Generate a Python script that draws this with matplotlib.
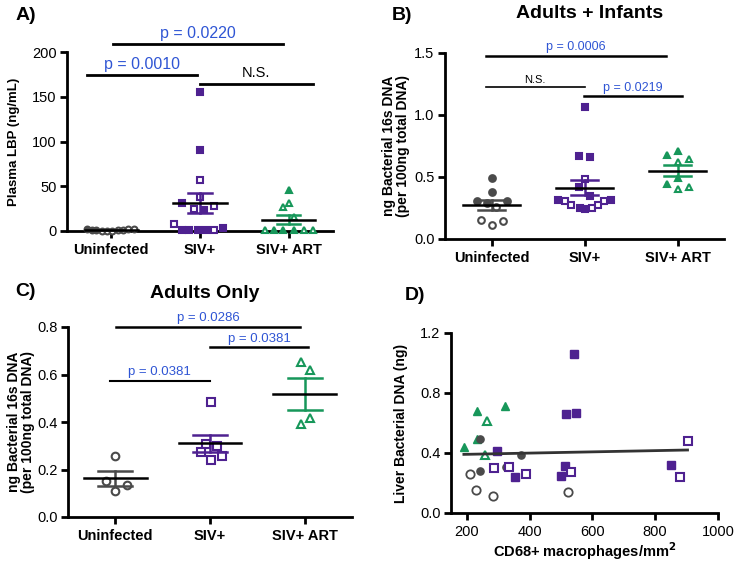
import numpy as np
import matplotlib
matplotlib.use('Agg')
import matplotlib.pyplot as plt

plt.rcParams['font.family'] = ['Liberation Sans', 'DejaVu Sans']

groups = ['Uninfected', 'SIV+', 'SIV+ ART']

# panel A - plasma LBP (ng/mL)
a_uninf_filled = [2.5, 1.5, 1.0]
a_uninf_open = [0.5, 0.3, 0.5, 1.0, 1.5, 2.0, 2.5]
a_siv_filled = [155, 91, 31.6, 23, 1, 1, 1, 1, 3.7]
a_siv_open = [57, 38, 28, 24.5, 7.6, 1]
a_art_filled = [46, 1, 1, 1]
a_art_open = [27, 31, 16, 1, 1, 1]

# panel B - adults + infants
b_uninf_filled = [0.49, 0.38, 0.31, 0.29, 0.31]
b_uninf_open = [0.26, 0.15, 0.115, 0.145]
b_siv_filled = [1.066, 0.67, 0.665, 0.416, 0.35, 0.318, 0.318, 0.25, 0.245]
b_siv_open = [0.48, 0.31, 0.31, 0.277, 0.25, 0.277]
b_art_filled = [0.68, 0.71, 0.49, 0.44]
b_art_open = [0.625, 0.646, 0.40, 0.42]

# panel C - adults only
c_uninf = [0.255, 0.15, 0.11, 0.135]
c_siv = [0.483, 0.309, 0.299, 0.274, 0.257, 0.242]
c_art = [0.653, 0.618, 0.417, 0.39]

# panel D - CD68+ vs liver bacterial DNA
d_green_filled_x = [191, 232, 321, 232]
d_green_filled_y = [0.438, 0.680, 0.713, 0.491]
d_green_open_x = [266, 258]
d_green_open_y = [0.613, 0.387]
d_gray_filled_x = [241, 241, 284, 326, 373]
d_gray_filled_y = [0.491, 0.28, 0.298, 0.304, 0.387]
d_gray_open_x = [211, 231, 284, 523]
d_gray_open_y = [0.258, 0.153, 0.113, 0.138]
d_purp_filled_x = [542, 517, 547, 297, 353, 513, 501, 850]
d_purp_filled_y = [1.06, 0.66, 0.669, 0.411, 0.238, 0.313, 0.247, 0.32]
d_purp_open_x = [286, 334, 389, 531, 903, 880]
d_purp_open_y = [0.298, 0.309, 0.258, 0.271, 0.478, 0.242]
d_fit_slope = 4.1e-5
d_fit_intercept = 0.383

# horizontal jitter of the dot plots (layout only)
a_off_uf = [-0.28, -0.22, -0.17]
a_off_uo = [-0.11, -0.05, 0.01, 0.07, 0.13, 0.19, 0.25]
a_off_sf = [0, 0, -0.2, 0.05, -0.2, -0.12, -0.02, 0.07, 0.26]
a_off_so = [0, 0, 0.16, -0.07, -0.29, 0.16]
a_off_af = [0, -0.17, -0.06, 0.06]
a_off_ao = [-0.06, 0.0, 0.06, -0.27, 0.17, 0.28]
b_off_uf = [0, 0, -0.16, -0.05, 0.17]
b_off_uo = [0.05, -0.11, 0.01, 0.12]
b_off_sf = [0, -0.06, 0.06, -0.06, 0.06, -0.28, 0.28, -0.05, 0.01]
b_off_so = [0, -0.21, 0.21, -0.14, 0.08, 0.15]
b_off_af = [-0.11, 0, 0, -0.11]
b_off_ao = [0, 0.12, 0, 0.12]
c_off_u = [0, -0.1, 0, 0.12]
c_off_s = [0.01, -0.04, 0.07, -0.09, 0.13, 0.01]
c_off_a = [-0.04, 0.06, 0.06, -0.04]

GRAY = '#4a4a4a'
PURPLE = '#4e2190'
GREEN = '#17975a'
BLUE = '#2f55d4'

fig = plt.figure(figsize=(7.36, 5.63), dpi=100)


def px_axes(l, t, r, b):
    W, H = 736.0, 563.0
    return fig.add_axes([l / W, 1 - b / H, (r - l) / W, (b - t) / H])


def style(ax, ylim, yticks, fmt):
    for s in ['top', 'right']:
        ax.spines[s].set_visible(False)
    for s in ['left', 'bottom']:
        ax.spines[s].set_linewidth(2.0)
    ax.tick_params(width=2.0, length=5, labelsize=10.5, color='black')
    ax.tick_params(axis='y', pad=2.5)
    ax.set_ylim(*ylim)
    ax.set_yticks(yticks)
    ax.set_yticklabels([fmt % v for v in yticks])


def dots(ax, xc, vals, offs, marker, color, filled, ms):
    x = [xc + o for o in offs]
    ax.plot(x, vals, ls='none', marker=marker, ms=ms, mew=1.5,
            mfc=color if filled else 'white', mec=color, clip_on=False, zorder=4)


def mean_sem(ax, xc, vals, color, half_mean, half_sem):
    v = np.array(vals, dtype=float)
    m = v.mean()
    se = v.std(ddof=1) / np.sqrt(len(v))
    ax.plot([xc, xc], [m - se, m + se], color=color, lw=1.8, zorder=5, clip_on=False)
    ax.plot([xc - half_sem, xc + half_sem], [m + se, m + se], color=color, lw=1.8, zorder=5, clip_on=False)
    ax.plot([xc - half_sem, xc + half_sem], [m - se, m - se], color=color, lw=1.8, zorder=5, clip_on=False)
    ax.plot([xc - half_mean, xc + half_mean], [m, m], color='black', lw=1.8, zorder=6, clip_on=False)


def sig(ax, x0, x1, y, ty, text, color, fs, lw):
    ax.plot([x0, x1], [y, y], color='black', lw=lw, clip_on=False)
    ax.text((x0 + x1) / 2, ty, text, color=color, fontsize=fs, ha='center', va='center')


def cat_axis(ax):
    ax.set_xlim(-0.5, 2.5)
    ax.set_xticks([0, 1, 2])
    ax.set_xticklabels(groups, fontweight='bold', fontsize=10.5)


# ---------------- A ----------------
axA = px_axes(67, 52, 333, 231)
style(axA, (0, 200), [0, 50, 100, 150, 200], '%d')
cat_axis(axA)
dots(axA, 0, a_uninf_filled, a_off_uf, 'o', GRAY, True, 4.2)
dots(axA, 0, a_uninf_open, a_off_uo, 'o', GRAY, False, 4.2)
dots(axA, 1, a_siv_filled, a_off_sf, 's', PURPLE, True, 4.5)
dots(axA, 1, a_siv_open, a_off_so, 's', PURPLE, False, 4.5)
dots(axA, 2, a_art_filled, a_off_af, '^', GREEN, True, 4.5)
dots(axA, 2, a_art_open, a_off_ao, '^', GREEN, False, 4.5)
mean_sem(axA, 0, a_uninf_filled + a_uninf_open, GRAY, 0.3, 0.13)
mean_sem(axA, 1, a_siv_filled + a_siv_open, PURPLE, 0.3, 0.13)
mean_sem(axA, 2, a_art_filled + a_art_open, GREEN, 0.3, 0.13)
sig(axA, 0.02, 1.94, 209, 221, 'p = 0.0220', BLUE, 11.5, 2.0)
sig(axA, -0.28, 0.97, 174, 186, 'p = 0.0010', BLUE, 11.5, 2.0)
sig(axA, 1.0, 2.27, 164, 176, 'N.S.', 'black', 10.5, 2.0)
axA.set_ylabel('Plasma LBP (ng/mL)', fontweight='bold', fontsize=9.5)
axA.yaxis.set_label_coords(-0.177, 0.5)

# ---------------- B ----------------
axB = px_axes(445, 53, 724, 239)
style(axB, (0, 1.5), [0, 0.5, 1.0, 1.5], '%.1f')
cat_axis(axB)
dots(axB, 0, b_uninf_filled, b_off_uf, 'o', GRAY, True, 4.8)
dots(axB, 0, b_uninf_open, b_off_uo, 'o', GRAY, False, 4.8)
dots(axB, 1, b_siv_filled, b_off_sf, 's', PURPLE, True, 4.8)
dots(axB, 1, b_siv_open, b_off_so, 's', PURPLE, False, 4.8)
dots(axB, 2, b_art_filled, b_off_af, '^', GREEN, True, 5)
dots(axB, 2, b_art_open, b_off_ao, '^', GREEN, False, 5)
mean_sem(axB, 0, b_uninf_filled + b_uninf_open, GRAY, 0.31, 0.14)
mean_sem(axB, 1, b_siv_filled + b_siv_open, PURPLE, 0.31, 0.14)
mean_sem(axB, 2, b_art_filled + b_art_open, GREEN, 0.31, 0.14)
sig(axB, -0.06, 1.88, 1.478, 1.55, 'p = 0.0006', BLUE, 9, 1.8)
sig(axB, -0.06, 1.0, 1.225, 1.28, 'N.S.', 'black', 8, 1.2)
sig(axB, 0.99, 2.05, 1.157, 1.22, 'p = 0.0219', BLUE, 9, 1.8)
axB.set_ylabel('ng Bacterial 16s DNA\n(per 100ng total DNA)', fontweight='bold', fontsize=10, linespacing=1.0)
axB.yaxis.set_label_coords(-0.125, 0.5)
fig.text(590 / 736, 1 - 13 / 563, 'Adults + Infants', fontweight='bold', fontsize=14, ha='center', va='center')

# ---------------- C ----------------
axC = px_axes(68, 327, 352, 517)
style(axC, (0, 0.8), [0, 0.2, 0.4, 0.6, 0.8], '%.1f')
cat_axis(axC)
dots(axC, 0, c_uninf, c_off_u, 'o', GRAY, False, 5.5)
dots(axC, 1, c_siv, c_off_s, 's', PURPLE, False, 5.5)
dots(axC, 2, c_art, c_off_a, '^', GREEN, False, 5.5)
mean_sem(axC, 0, c_uninf, GRAY, 0.33, 0.18)
mean_sem(axC, 1, c_siv, PURPLE, 0.33, 0.18)
mean_sem(axC, 2, c_art, GREEN, 0.33, 0.18)
sig(axC, 0.01, 1.95, 0.80, 0.838, 'p = 0.0286', BLUE, 9.5, 1.8)
sig(axC, 1.0, 2.04, 0.7145, 0.75, 'p = 0.0381', BLUE, 9.5, 1.8)
sig(axC, -0.06, 1.0, 0.571, 0.61, 'p = 0.0381', BLUE, 9.5, 1.5)
axC.set_ylabel('ng Bacterial 16s DNA\n(per 100ng total DNA)', fontweight='bold', fontsize=10, linespacing=1.0)
axC.yaxis.set_label_coords(-0.115, 0.5)
fig.text(205 / 736, 1 - 293 / 563, 'Adults Only', fontweight='bold', fontsize=14, ha='center', va='center')

# ---------------- D ----------------
axD = px_axes(451, 333, 718, 513)
style(axD, (0, 1.2), [0, 0.4, 0.8, 1.2], '%.1f')
axD.set_xlim(150, 1000)
axD.set_xticks([200, 400, 600, 800, 1000])
axD.plot(d_green_filled_x, d_green_filled_y, ls='none', marker='^', ms=6, color=GREEN, zorder=4)
axD.plot(d_green_open_x, d_green_open_y, ls='none', marker='^', ms=6, mew=1.5, mfc='white', mec=GREEN, zorder=4)
axD.plot(d_gray_filled_x, d_gray_filled_y, ls='none', marker='o', ms=5.2, color=GRAY, zorder=4)
axD.plot(d_gray_open_x, d_gray_open_y, ls='none', marker='o', ms=6, mew=1.3, mfc='white', mec=GRAY, zorder=4)
axD.plot(d_purp_filled_x, d_purp_filled_y, ls='none', marker='s', ms=6, color=PURPLE, zorder=4)
axD.plot(d_purp_open_x, d_purp_open_y, ls='none', marker='s', ms=6, mew=1.5, mfc='white', mec=PURPLE, zorder=4)
all_x = d_green_filled_x + d_green_open_x + d_gray_filled_x + d_gray_open_x + d_purp_filled_x + d_purp_open_x
fx = np.array([min(all_x), max(all_x)], dtype=float)
axD.plot(fx, d_fit_intercept + d_fit_slope * fx, color='#333333', lw=2, zorder=5)
axD.set_ylabel('Liver Bacterial DNA (ng)', fontweight='bold', fontsize=10)
axD.yaxis.set_label_coords(-0.161, 0.5)
axD.set_xlabel(r'CD68+ macrophages/mm$^{\mathbf{2}}$', fontweight='bold', fontsize=10.5)
axD.xaxis.set_label_coords(0.5, -0.15)

# panel letters
for lab, x, y in [('A)', 26, 15), ('B)', 402, 15), ('C)', 26, 292), ('D)', 415, 295)]:
    fig.text(x / 736, 1 - y / 563, lab, fontweight='bold', fontsize=14, ha='center', va='center')

fig.savefig('out.png', dpi=100)
